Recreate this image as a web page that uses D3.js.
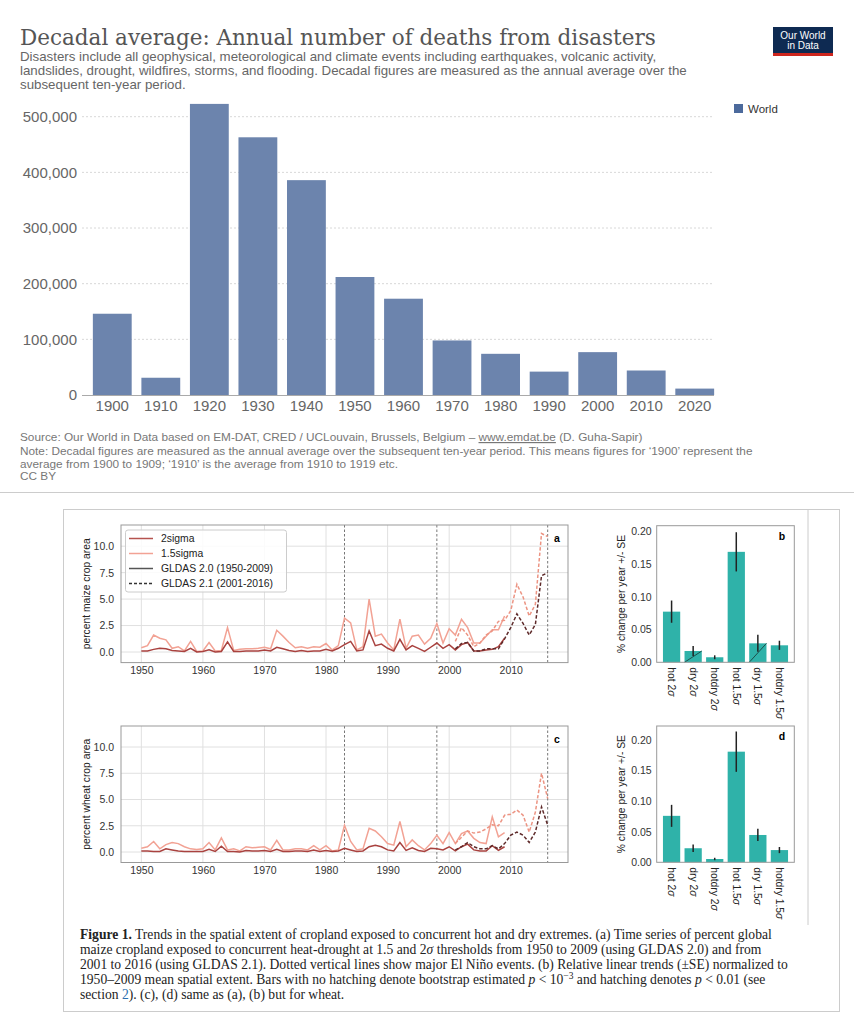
<!DOCTYPE html>
<html>
<head>
<meta charset="utf-8">
<script src="https://cdn.jsdelivr.net/npm/d3@7"></script>
<style>
 body { margin: 0; background: #fff; }
 svg { display: block; }
</style>
</head>
<body>
<script>
'use strict'
// ---- data: decadal deaths from disasters (OWID)
const decades = [1900, 1910, 1920, 1930, 1940, 1950, 1960, 1970, 1980, 1990, 2000, 2010, 2020];
const deaths = [146000, 31000, 523000, 463000, 386000, 212000, 173000, 98000, 74000, 42000, 77000, 44000, 11500];
const deathTicks = [0, 100000, 200000, 300000, 400000, 500000];

// ---- data: cropland exposed to hot-dry extremes (percent of area)
const yearsOld = d3.range(1950, 2010);   // GLDAS 2.0
const yearsNew = d3.range(2001, 2017);   // GLDAS 2.1
const maize15Old = [0.4, 0.6, 1.6, 1.3, 1.15, 0.35, 0.5, 0.1, 1.0, 0.05,
 0.1, 0.9, 0.1, 0.15, 2.3, 0.15, 0.25, 0.3, 0.3, 0.35,
 0.45, 0.3, 2.05, 1.5, 0.9, 0.4, 0.5, 0.35, 0.5, 0.45,
 0.8, 0.2, 0.6, 3.2, 2.75, 0.2, 0.5, 5.0, 1.5, 1.7,
 0.85, 0.2, 3.1, 0.35, 1.5, 1.6, 0.75, 1.3, 2.7, 0.85,
 2.2, 1.6, 3.1, 2.3, 0.85, 0.85, 1.5, 2.1, 2.1, 3.4];
const maize2Old = [0.1, 0.1, 0.25, 0.35, 0.3, 0.15, 0.1, 0.05, 0.35, 0.0,
 0.05, 0.2, 0.0, 0.05, 0.95, 0.05, 0.05, 0.1, 0.1, 0.1,
 0.2, 0.1, 0.45, 0.3, 0.15, 0.05, 0.15, 0.05, 0.1, 0.1,
 0.25, 0.1, 0.35, 0.7, 1.0, 0.1, 0.2, 2.0, 0.6, 0.75,
 0.35, 0.1, 1.2, 0.2, 0.6, 0.35, 0.05, 0.45, 0.85, 0.35,
 0.7, 0.2, 0.7, 0.9, 0.1, 0.1, 0.2, 0.25, 0.5, 1.3];
const maize15New = [1.0, 2.3, 1.6, 0.5, 0.85, 1.6, 2.0, 2.9, 3.0, 3.9, 6.4, 5.2, 3.4, 4.5, 11.2, 10.9];
const maize2New = [0.3, 0.8, 0.9, 0.1, 0.1, 0.3, 0.3, 0.3, 1.25, 2.3, 3.6, 2.7, 1.6, 2.6, 7.2, 7.5];

const wheat15Old = [0.35, 0.5, 1.0, 0.3, 0.7, 0.9, 0.8, 0.5, 0.3, 0.25,
 0.3, 0.9, 0.2, 1.35, 0.2, 0.3, 0.1, 0.5, 0.4, 0.45,
 0.5, 0.2, 1.1, 0.2, 0.2, 0.3, 0.3, 0.2, 0.6, 0.2,
 0.6, 0.1, 0.2, 2.55, 1.0, 0.2, 0.3, 2.25, 2.0, 1.45,
 0.8, 0.65, 2.9, 0.5, 1.15, 0.6, 0.2, 0.8, 1.6, 0.8,
 1.85, 0.8, 1.75, 2.0, 1.3, 0.9, 0.8, 3.35, 1.45, 1.85];
const wheat2Old = [0.1, 0.1, 0.05, 0.05, 0.3, 0.2, 0.1, 0.05, 0.05, 0.05,
 0.05, 0.25, 0.05, 0.55, 0.05, 0.05, 0.0, 0.15, 0.1, 0.1,
 0.15, 0.05, 0.25, 0.05, 0.05, 0.1, 0.1, 0.05, 0.2, 0.05,
 0.15, 0.05, 0.1, 0.35, 0.2, 0.05, 0.1, 0.5, 0.65, 0.5,
 0.2, 0.1, 0.9, 0.15, 0.4, 0.15, 0.05, 0.35, 0.3, 0.2,
 0.5, 0.1, 0.5, 0.75, 0.2, 0.1, 0.1, 0.6, 0.15, 0.5];
const wheat15New = [0.8, 1.4, 2.0, 1.8, 1.9, 2.2, 2.6, 2.5, 3.5, 3.6, 4.0, 3.5, 1.9, 3.8, 7.5, 5.1];
const wheat2New = [0.2, 0.5, 0.9, 0.5, 0.3, 0.3, 0.6, 0.3, 0.8, 1.6, 1.9, 1.6, 0.9, 1.9, 4.3, 2.55];

const elNino = [1983, 1998, 2016];
const yearTicks = [1950, 1960, 1970, 1980, 1990, 2000, 2010];
const pctTicks = [0, 2.5, 5, 7.5, 10];

// ---- data: relative linear trends (+/- SE)
const trendCats = ['hot', 'dry', 'hotdry', 'hot', 'dry', 'hotdry'];
const trendSigma = ['2σ', '2σ', '2σ', '1.5σ', '1.5σ', '1.5σ'];
const maizeTrend = [0.0775, 0.0173, 0.0077, 0.169, 0.029, 0.026];
const maizeErr = [0.017, 0.0075, 0.003, 0.030, 0.013, 0.007];
const maizeHatch = [false, true, false, false, true, false];
const wheatTrend = [0.076, 0.023, 0.0054, 0.181, 0.0447, 0.020];
const wheatErr = [0.018, 0.006, 0.002, 0.033, 0.010, 0.005];
const wheatHatch = [false, false, false, false, false, false];
const trendTicks = [0, 0.05, 0.10, 0.15, 0.20];

const sans = 'Liberation Sans, Arial, sans-serif';
const serif = 'Liberation Serif, Times New Roman, serif';

let svg = d3.select('body').append('svg')
 .attr('width', 854)
 .attr('height', 1024);

// ================= top: OWID chart =================
svg.append('text')
 .attr('x', 20).attr('y', 45)
 .attr('font-family', 'DejaVu Serif, serif')
 .attr('font-size', 21.5)
 .attr('fill', '#555')
 .text('Decadal average: Annual number of deaths from disasters');

let subtitle = [
 'Disasters include all geophysical, meteorological and climate events including earthquakes, volcanic activity,',
 'landslides, drought, wildfires, storms, and flooding. Decadal figures are measured as the annual average over the',
 'subsequent ten-year period.'
];
svg.append('g').selectAll('text').data(subtitle).join('text')
 .attr('x', 20).attr('y', (d, i) => 61 + i * 14)
 .attr('font-family', sans).attr('font-size', 13.3).attr('fill', '#666')
 .text(d => d);

// logo
let logo = svg.append('g');
logo.append('rect').attr('x', 773).attr('y', 27).attr('width', 60).attr('height', 29).attr('fill', '#0e2a52');
logo.append('rect').attr('x', 773).attr('y', 53).attr('width', 60).attr('height', 3).attr('fill', '#ce261e');
logo.selectAll('text').data(['Our World', 'in Data']).join('text')
 .attr('x', 803).attr('y', (d, i) => 39 + i * 10)
 .attr('text-anchor', 'middle')
 .attr('font-family', sans).attr('font-size', 10).attr('fill', '#fff')
 .text(d => d);

let xb = d3.scaleBand().domain(decades).range([88, 719]).paddingInner(0.2).paddingOuter(0.1);
let yb = d3.scaleLinear().domain([0, 500000]).range([395, 116.7]);

svg.append('g').selectAll('line').data(deathTicks.slice(1)).join('line')
 .attr('x1', 82).attr('x2', 714)
 .attr('y1', d => yb(d)).attr('y2', d => yb(d))
 .attr('stroke', '#d8d8d8').attr('stroke-dasharray', '2,2');

let yAxisTop = svg.append('g')
 .attr('transform', 'translate(80,0)')
 .call(d3.axisLeft(yb).tickValues(deathTicks).tickSize(0).tickPadding(3).tickFormat(d3.format(',')));
yAxisTop.select('.domain').remove();
yAxisTop.selectAll('text').attr('font-family', sans).attr('font-size', 15).attr('fill', '#666');

svg.append('g').selectAll('rect').data(decades).join('rect')
 .attr('x', d => xb(d))
 .attr('width', xb.bandwidth())
 .attr('y', (d, i) => yb(deaths[i]))
 .attr('height', (d, i) => yb(0) - yb(deaths[i]))
 .attr('fill', '#6c84ad');

svg.append('line')
 .attr('x1', 82).attr('x2', 714).attr('y1', 395.5).attr('y2', 395.5)
 .attr('stroke', '#aaa');

let xAxisTop = svg.append('g')
 .attr('transform', 'translate(0,395)')
 .call(d3.axisBottom(xb).tickSize(0).tickPadding(5));
xAxisTop.select('.domain').remove();
xAxisTop.selectAll('text').attr('font-family', sans).attr('font-size', 15).attr('fill', '#666');

// legend
svg.append('rect').attr('x', 734).attr('y', 104).attr('width', 9).attr('height', 9).attr('fill', '#4c6a9c');
svg.append('text').attr('x', 748).attr('y', 112.5)
 .attr('font-family', sans).attr('font-size', 11.5).attr('fill', '#333').text('World');

// source notes
let notes = svg.append('g').attr('font-family', sans).attr('font-size', 11.8).attr('fill', '#777');
let src = notes.append('text').attr('x', 20).attr('y', 441);
src.append('tspan').text('Source: Our World in Data based on EM-DAT, CRED / UCLouvain, Brussels, Belgium – ');
src.append('tspan').attr('text-decoration', 'underline').text('www.emdat.be');
src.append('tspan').text(' (D. Guha-Sapir)');
notes.append('text').attr('x', 20).attr('y', 455)
 .text('Note: Decadal figures are measured as the annual average over the subsequent ten-year period. This means figures for ‘1900’ represent the');
notes.append('text').attr('x', 20).attr('y', 467.5)
 .text('average from 1900 to 1909; ‘1910’ is the average from 1910 to 1919 etc.');
notes.append('text').attr('x', 20).attr('y', 480).text('CC BY');

svg.append('line').attr('x1', 0).attr('x2', 854).attr('y1', 492.5).attr('y2', 492.5).attr('stroke', '#ccc');

// ================= bottom: figure =================
svg.append('rect')
 .attr('x', 63.5).attr('y', 509.5).attr('width', 776).attr('height', 502)
 .attr('fill', 'none').attr('stroke', '#ccc');
svg.append('line')
 .attr('x1', 808).attr('x2', 808).attr('y1', 510).attr('y2', 925)
 .attr('stroke', '#ccc');

const c2 = '#a9423f', c15 = '#f2a294', c2new = '#5e2a2a', c15new = '#ec9483';

function linePanel(top, bottom, yLabel, letter, s15Old, s2Old, s15New, s2New, withLegend) {
 let g = svg.append('g');
 let xs = d3.scaleLinear().domain([1946.7, 2019.3]).range([121, 568]);
 let ys = d3.scaleLinear().domain([-1, 12]).range([bottom, top]);

 g.selectAll('.vg').data(yearTicks).join('line')
 .attr('x1', d => xs(d)).attr('x2', d => xs(d)).attr('y1', top).attr('y2', bottom)
 .attr('stroke', '#e0e0e0');
 g.selectAll('.hg').data(pctTicks).join('line')
 .attr('x1', 121).attr('x2', 568).attr('y1', d => ys(d)).attr('y2', d => ys(d))
 .attr('stroke', '#e0e0e0');

 let ya = g.append('g').attr('transform', 'translate(121,0)')
 .call(d3.axisLeft(ys).tickValues(pctTicks).tickSize(0).tickPadding(7).tickFormat(d3.format('.1f')));
 ya.select('.domain').remove();
 ya.selectAll('text').attr('font-family', sans).attr('font-size', 10.5).attr('fill', '#333');

 let xa = g.append('g').attr('transform', 'translate(0,' + bottom + ')')
 .call(d3.axisBottom(xs).tickValues(yearTicks).tickSize(0).tickPadding(4).tickFormat(d3.format('d')));
 xa.select('.domain').remove();
 xa.selectAll('text').attr('font-family', sans).attr('font-size', 10.5).attr('fill', '#333');

 g.selectAll('.en').data(elNino).join('line')
 .attr('x1', d => xs(d)).attr('x2', d => xs(d)).attr('y1', top).attr('y2', bottom)
 .attr('stroke', '#777').attr('stroke-dasharray', '2.5,2');

 let line = d3.line().x(d => xs(d[0])).y(d => ys(d[1]));
 let series = [
 { yrs: yearsOld, v: s15Old, c: c15, dash: null },
 { yrs: yearsOld, v: s2Old, c: c2, dash: null },
 { yrs: yearsNew, v: s15New, c: c15new, dash: '3.5,2' },
 { yrs: yearsNew, v: s2New, c: c2new, dash: '3.5,2' }
 ];
 series.forEach(s => {
 g.append('path')
 .attr('d', line(s.yrs.map((yr, i) => [yr, s.v[i]])))
 .attr('fill', 'none').attr('stroke', s.c).attr('stroke-width', 1.5)
 .attr('stroke-dasharray', s.dash);
 });

 g.append('rect').attr('x', 121).attr('y', top).attr('width', 447).attr('height', bottom - top)
 .attr('fill', 'none').attr('stroke', '#999');

 g.append('text')
 .attr('transform', 'translate(90,' + (top + bottom) / 2 + ') rotate(-90)')
 .attr('text-anchor', 'middle')
 .attr('font-family', sans).attr('font-size', 10.3).attr('fill', '#222')
 .text(yLabel);

 g.append('text').attr('x', 557).attr('y', top + 17)
 .attr('text-anchor', 'middle')
 .attr('font-family', sans).attr('font-size', 10.5).attr('font-weight', 'bold')
 .text(letter);

 if (withLegend) {
 let lg = g.append('g');
 lg.append('rect').attr('x', 125.5).attr('y', 530).attr('width', 161).attr('height', 62).attr('rx', 2.5)
 .attr('fill', '#fff').attr('fill-opacity', 0.85).attr('stroke', '#ccc');
 let items = [
 { t: '2sigma', c: '#b5534f', dash: null },
 { t: '1.5sigma', c: c15, dash: null },
 { t: 'GLDAS 2.0 (1950-2009)', c: '#555', dash: null },
 { t: 'GLDAS 2.1 (2001-2016)', c: '#333', dash: '3,2' }
 ];
 items.forEach((it, i) => {
 let yy = 538.5 + i * 15;
 lg.append('line').attr('x1', 129).attr('x2', 153).attr('y1', yy).attr('y2', yy)
 .attr('stroke', it.c).attr('stroke-width', 1.5).attr('stroke-dasharray', it.dash);
 lg.append('text').attr('x', 161).attr('y', yy + 3.6)
 .attr('font-family', sans).attr('font-size', 10.4).attr('fill', '#222').text(it.t);
 });
 }
}

function barPanel(top, bottom, ymax, letter, vals, errs, hatch) {
 let g = svg.append('g');
 let xs = d3.scaleLinear().domain([-0.69, 5.69]).range([656.7, 794.3]);
 let ys = d3.scaleLinear().domain([0, ymax]).range([bottom, top]);

 g.selectAll('.bar').data(vals).join('rect')
 .attr('x', (d, i) => xs(i - 0.4)).attr('width', xs(0.4) - xs(-0.4))
 .attr('y', d => ys(d)).attr('height', d => ys(0) - ys(d))
 .attr('fill', '#2fb2a9');

 vals.forEach((d, i) => {
 if (hatch[i]) {
 g.append('line')
 .attr('x1', xs(i - 0.4)).attr('y1', ys(0))
 .attr('x2', xs(i + 0.4)).attr('y2', ys(d))
 .attr('stroke', '#1d4f4b').attr('stroke-width', 1);
 }
 });

 g.selectAll('.err').data(vals).join('line')
 .attr('x1', (d, i) => xs(i)).attr('x2', (d, i) => xs(i))
 .attr('y1', (d, i) => ys(d - errs[i])).attr('y2', (d, i) => ys(d + errs[i]))
 .attr('stroke', '#222').attr('stroke-width', 1.5);

 g.append('rect').attr('x', 656.7).attr('y', top).attr('width', 794.3 - 656.7).attr('height', bottom - top)
 .attr('fill', 'none').attr('stroke', '#999');

 let ya = g.append('g').attr('transform', 'translate(656.7,0)')
 .call(d3.axisLeft(ys).tickValues(trendTicks).tickSize(0).tickPadding(5).tickFormat(d3.format('.2f')));
 ya.select('.domain').remove();
 ya.selectAll('text').attr('font-family', sans).attr('font-size', 10.5).attr('fill', '#333');

 g.append('text')
 .attr('transform', 'translate(625,' + (top + bottom) / 2 + ') rotate(-90)')
 .attr('text-anchor', 'middle')
 .attr('font-family', sans).attr('font-size', 10.3).attr('fill', '#222')
 .text('% change per year +/- SE');

 vals.forEach((d, i) => {
 let t = g.append('text')
 .attr('transform', 'translate(' + (xs(i) - 3.5) + ',' + (bottom + 5) + ') rotate(90)')
 .attr('font-family', sans).attr('font-size', 10.3).attr('fill', '#222');
 t.append('tspan').text(trendCats[i] + ' ' + trendSigma[i].slice(0, -1));
 t.append('tspan').attr('font-style', 'italic').text('σ');
 });

 g.append('text').attr('x', 782).attr('y', top + 14)
 .attr('text-anchor', 'middle')
 .attr('font-family', sans).attr('font-size', 10.5).attr('font-weight', 'bold')
 .text(letter);
}

linePanel(525, 662.6, 'percent maize crop area', 'a', maize15Old, maize2Old, maize15New, maize2New, true);
linePanel(726, 862.5, 'percent wheat crop area', 'c', wheat15Old, wheat2Old, wheat15New, wheat2New, false);
barPanel(525.7, 662.3, 0.209, 'b', maizeTrend, maizeErr, maizeHatch);
barPanel(726, 862.3, 0.223, 'd', wheatTrend, wheatErr, wheatHatch);

// caption
let cap = svg.append('g').attr('font-family', serif).attr('font-size', 13.6).attr('fill', '#222');
let l1 = cap.append('text').attr('x', 80).attr('y', 939);
l1.append('tspan').attr('font-weight', 'bold').text('Figure 1.');
l1.append('tspan').text(' Trends in the spatial extent of cropland exposed to concurrent hot and dry extremes. (a) Time series of percent global');
let l2 = cap.append('text').attr('x', 80).attr('y', 954);
l2.append('tspan').text('maize cropland exposed to concurrent heat-drought at 1.5 and 2');
l2.append('tspan').attr('font-style', 'italic').text('σ');
l2.append('tspan').text(' thresholds from 1950 to 2009 (using GLDAS 2.0) and from');
cap.append('text').attr('x', 80).attr('y', 969)
 .text('2001 to 2016 (using GLDAS 2.1). Dotted vertical lines show major El Niño events. (b) Relative linear trends (±SE) normalized to');
let l4 = cap.append('text').attr('x', 80).attr('y', 984);
l4.append('tspan').text('1950–2009 mean spatial extent. Bars with no hatching denote bootstrap estimated ');
l4.append('tspan').attr('font-style', 'italic').text('p');
l4.append('tspan').text(' < 10');
l4.append('tspan').attr('font-size', 9.5).attr('dy', -5).text('−3');
l4.append('tspan').attr('dy', 5).text(' and hatching denotes ');
l4.append('tspan').attr('font-style', 'italic').text('p');
l4.append('tspan').text(' < 0.01 (see');
let l5 = cap.append('text').attr('x', 80).attr('y', 999);
l5.append('tspan').text('section ');
l5.append('tspan').attr('fill', '#2a6fb0').text('2');
l5.append('tspan').text('). (c), (d) same as (a), (b) but for wheat.');
</script>
</body>
</html>
